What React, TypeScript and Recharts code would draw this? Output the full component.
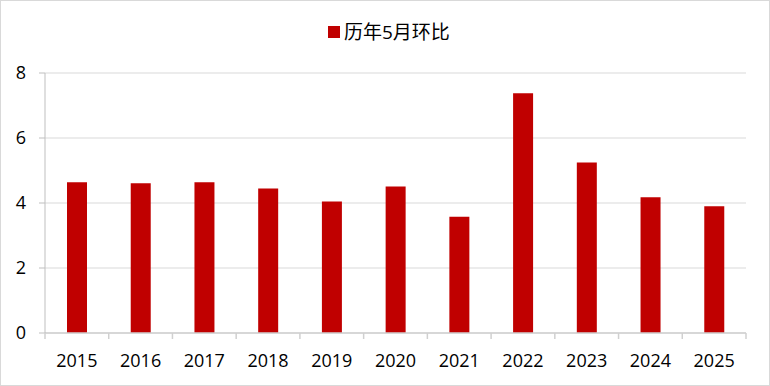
import React from "react";
import { BarChart, Bar, XAxis, YAxis, CartesianGrid } from "recharts";

const years = ["2015", "2016", "2017", "2018", "2019", "2020", "2021", "2022", "2023", "2024", "2025"];
const values = [4.64, 4.61, 4.64, 4.45, 4.05, 4.51, 3.58, 7.38, 5.25, 4.18, 3.9];
const yTicks = [0, 2, 4, 6, 8];
const seriesName = "历年5月环比";
const seriesColor = "#c00000";

const data = years.map((y, i) => ({ year: y, v: values[i] }));

const W = 770;
const H = 386;
const M = { top: 73, right: 24, bottom: 0, left: 0 };
const XH = 53;
const YW = 45;
const FONT = "'Open Sans', 'Noto Sans CJK SC', sans-serif";

const XTick = (props: any) => {
  const { x, y, payload, index } = props;
  const bw = (W - M.left - M.right - YW) / years.length;
  const left = x - bw / 2;
  return (
    <g>
      <line x1={left} y1={y} x2={left} y2={y + 6} stroke="#d0d0d0" strokeWidth={1.5} />
      {index === years.length - 1 && (
        <line x1={x + bw / 2} y1={y} x2={x + bw / 2} y2={y + 6} stroke="#d0d0d0" strokeWidth={1.5} />
      )}
      <text x={x} y={y + 34} textAnchor="middle" fill="#000" fontSize={18} fontFamily={FONT}>
        {payload.value}
      </text>
    </g>
  );
};

export default function App() {
  return (
    <div style={{ position: "absolute", left: 0, top: 0, width: W, height: H, background: "#fff" }}>
      <div
        style={{
          position: "absolute",
          left: 0,
          top: 0,
          width: W - 2,
          height: H - 2,
          border: "1px solid #d9d9d9",
        }}
      />
      <div
        style={{
          position: "absolute",
          left: 328,
          top: 19,
          display: "flex",
          alignItems: "center",
          fontFamily: FONT,
          fontSize: 19,
          color: "#000",
          lineHeight: "26px",
        }}
      >
        <span style={{ display: "inline-block", width: 12, height: 12, background: seriesColor, marginRight: 4 }} />
        <span>{seriesName}</span>
      </div>
      <BarChart width={W} height={H} data={data} margin={M} style={{ position: "absolute", left: 0, top: 0 }}>
        <CartesianGrid horizontal vertical={false} stroke="#d9d9d9" strokeWidth={1.2} />
        <XAxis
          dataKey="year"
          interval={0}
          tickLine={false}
          tickSize={0}
          tickMargin={0}
          axisLine={{ stroke: "#d0d0d0", strokeWidth: 1.5 }}
          tick={<XTick />}
          height={XH}
        />
        <YAxis
          width={YW}
          domain={[0, 8]}
          ticks={yTicks}
          interval={0}
          tickSize={6}
          tickMargin={13}
          axisLine={{ stroke: "#bfbfbf" }}
          tickLine={{ stroke: "#bfbfbf" }}
          tick={{ fill: "#000", fontSize: 18, fontFamily: FONT }}
        />
        <Bar dataKey="v" name={seriesName} fill={seriesColor} barSize={20} isAnimationActive={false} />
      </BarChart>
    </div>
  );
}
